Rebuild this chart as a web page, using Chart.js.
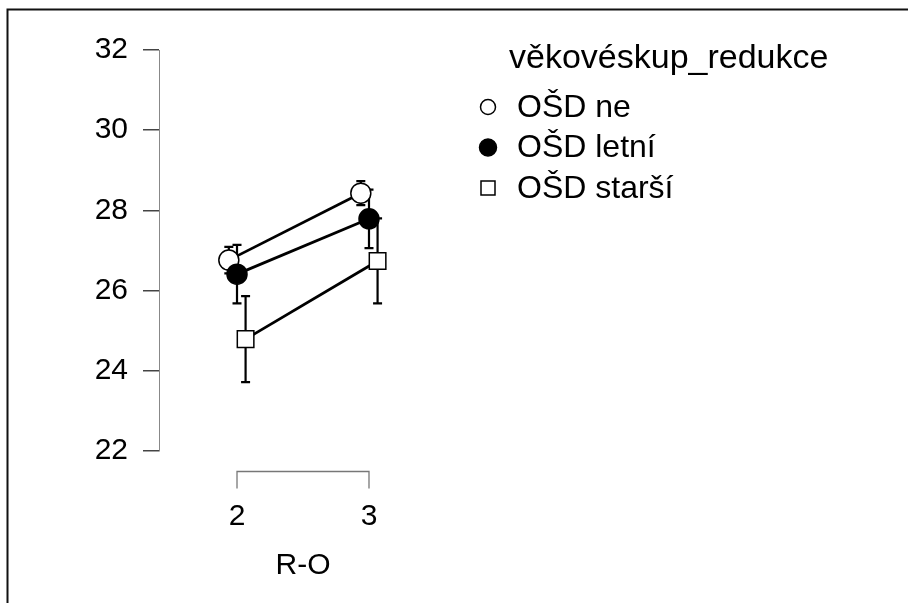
<!DOCTYPE html>
<html>
<head>
<meta charset="utf-8">
<script src="https://cdn.jsdelivr.net/npm/chart.js@4.4.0/dist/chart.umd.min.js"></script>
<style>
  html, body { margin: 0; padding: 0; background: #fff; }
  #wrap { width: 908px; height: 603px; }
</style>
</head>
<body>
<div id="wrap"><canvas id="plot"></canvas></div>
<script>
// data
const categories = [2, 3];
const seriesNames = ['OŠD ne', 'OŠD letní', 'OŠD starší'];
const meanNe = [26.76, 28.43];
const meanLetni = [26.41, 27.79];
const meanStarsi = [24.79, 26.74];
const errNe = [0.33, 0.30];
const errLetni = [0.73, 0.73];
const errStarsi = [1.07, 1.06];
const yTicks = [22, 24, 26, 28, 30, 32];
const legendTitle = 'věkovéskup_redukce';
const xTitle = 'R-O';

const FONT = '"Liberation Sans", Arial, sans-serif';
const means = [meanNe, meanLetni, meanStarsi];
const errs = [errNe, errLetni, errStarsi];
// small horizontal shift so the groups don't overlap
const dodge = [-0.062, 0, 0.065];
const marks = [
    { pointStyle: 'circle', fill: '#fff', radius: 10 },
    { pointStyle: 'circle', fill: '#000', radius: 10 },
    { pointStyle: 'rect', fill: '#fff', radius: 11.7 }
];

const datasets = seriesNames.map((name, k) => ({
    label: name,
    data: categories.map((c, i) => ({ x: c + dodge[k], y: means[k][i] })),
    err: errs[k],
    borderColor: '#000',
    borderWidth: 2.8,
    tension: 0,
    pointStyle: marks[k].pointStyle,
    pointRadius: marks[k].radius,
    pointBackgroundColor: marks[k].fill,
    pointBorderColor: '#000',
    pointBorderWidth: 1.5,
    order: 3 - k
}));

const errorBars = {
    id: 'errorBars',
    beforeDatasetsDraw(chart) {
        const { ctx, scales: { x, y } } = chart;
        ctx.save();
        ctx.strokeStyle = '#000';
        ctx.lineWidth = 2.2;
        chart.data.datasets.forEach(ds => {
            ds.data.forEach((p, i) => {
                const px = x.getPixelForValue(p.x);
                const top = y.getPixelForValue(p.y + ds.err[i]);
                const bot = y.getPixelForValue(p.y - ds.err[i]);
                ctx.beginPath();
                ctx.moveTo(px, top); ctx.lineTo(px, bot);
                ctx.moveTo(px - 4.5, top); ctx.lineTo(px + 4.5, top);
                ctx.moveTo(px - 4.5, bot); ctx.lineTo(px + 4.5, bot);
                ctx.stroke();
            });
        });
        ctx.restore();
    }
};

// offset x axis: line only between first and last category
const xAxisLine = {
    id: 'xAxisLine',
    afterDraw(chart) {
        const { ctx, scales: { x }, chartArea } = chart;
        const yy = Math.round(chartArea.bottom + 20) + 0.5;
        const x0 = x.getPixelForValue(categories[0]);
        const x1 = x.getPixelForValue(categories[categories.length - 1]);
        ctx.save();
        ctx.strokeStyle = '#777';
        ctx.lineWidth = 1.3;
        ctx.beginPath();
        ctx.moveTo(x0, yy + 17); ctx.lineTo(x0, yy);
        ctx.lineTo(x1, yy); ctx.lineTo(x1, yy + 17);
        ctx.stroke();
        ctx.restore();
    }
};

const legendBox = {
    id: 'legendBox',
    afterDraw(chart) {
        const ctx = chart.ctx;
        ctx.save();
        ctx.fillStyle = '#000';
        ctx.textBaseline = 'middle';
        ctx.textAlign = 'left';
        ctx.font = '34px ' + FONT;
        ctx.fillText(legendTitle, 509, 59);
        ctx.font = '32px ' + FONT;
        chart.data.datasets.forEach((ds, k) => {
            const cy = 107 + k * 40.5;
            const cx = 488;
            ctx.lineWidth = 1.5;
            ctx.strokeStyle = '#000';
            ctx.fillStyle = marks[k].fill;
            ctx.beginPath();
            if (marks[k].pointStyle === 'rect') {
                ctx.rect(cx - 7, cy - 7, 14, 14);
            } else {
                ctx.arc(cx, cy, marks[k].fill === '#000' ? 8.5 : 7.5, 0, Math.PI * 2);
            }
            ctx.fill();
            ctx.stroke();
            ctx.fillStyle = '#000';
            ctx.fillText(ds.label, 517, cy + 1);
        });
        ctx.restore();
    }
};

const frame = {
    id: 'frame',
    afterDraw(chart) {
        const ctx = chart.ctx;
        ctx.save();
        ctx.strokeStyle = '#111';
        ctx.lineWidth = 2;
        ctx.beginPath();
        ctx.moveTo(7.5, chart.height);
        ctx.lineTo(7.5, 9.5);
        ctx.lineTo(chart.width, 9.5);
        ctx.stroke();
        ctx.restore();
    }
};

new Chart(document.getElementById('plot'), {
    type: 'line',
    data: { datasets: datasets },
    options: {
        responsive: true,
        maintainAspectRatio: false,
        animation: false,
        layout: { padding: { top: 50, left: 0, right: 461, bottom: 0 } },
        scales: {
            x: {
                type: 'linear',
                min: categories[0] - 0.591,
                max: categories[1] + 0.591,
                afterFit: s => { s.height = 152; },
                afterBuildTicks: s => { s.ticks = categories.map(v => ({ value: v })); },
                border: { display: false },
                grid: { display: false, drawTicks: false },
                ticks: { color: '#000', font: { family: FONT, size: 30 }, padding: 48 },
                title: {
                    display: true, text: xTitle, color: '#000',
                    font: { family: FONT, size: 30 },
                    padding: { top: 0, bottom: 19 }
                }
            },
            y: {
                min: 22,
                max: 32,
                afterFit: s => { s.width = 159; },
                afterBuildTicks: s => { s.ticks = yTicks.map(v => ({ value: v })); },
                border: { display: true, color: '#888', width: 1 },
                grid: { drawOnChartArea: false, drawTicks: true, tickLength: 16, color: '#444', lineWidth: 1.5 },
                ticks: { color: '#000', font: { family: FONT, size: 30 }, padding: 15 }
            }
        },
        plugins: {
            legend: { display: false },
            tooltip: { enabled: false }
        }
    },
    plugins: [errorBars, xAxisLine, legendBox, frame]
});
</script>
</body>
</html>
